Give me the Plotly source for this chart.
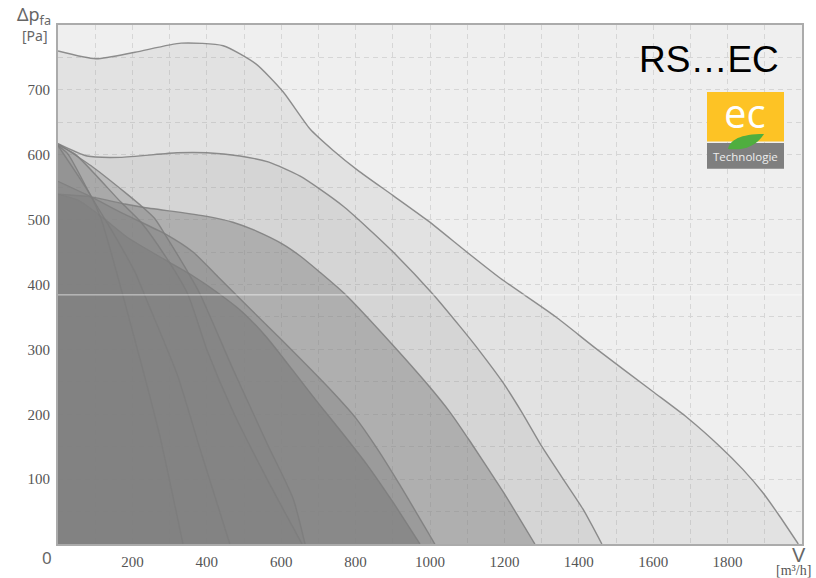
import plotly.graph_objects as go

W, H = 816, 578
L, R, T, B = 58, 802, 25, 544.5

# Fan curves, [m3/h] and [Pa]
c1_v = [0,102,207,331,444,532,605,677,739,806,901,995,1099,1188,1336,1449,1599,1691,1780,1841,1895,1941,1990]
c1_p = [760,748,758,772,768,740,697,640,607,576,537,498,450,410,351,300,235,195,150,115,79,42,0]
c2_v = [0,78,167,320,400,489,565,651,704,766,831,901,1008,1081,1134,1196,1247,1301,1358,1411,1462]
c2_p = [617,598,596,603,603,598,589,567,547,521,488,450,385,335,297,249,203,150,100,54,0]
c3_v = [0,89,180,228,401,470,535,605,651,704,772,898,992,1054,1108,1196,1242,1282]
c3_p = [539,535,524,519,505,496,482,462,444,419,385,308,247,203,158,81,38,0]
c4_v = [0,89,180,288,363,430,484,551,651,739,798,858,919,1013]
c4_p = [559,535,508,478,450,412,381,343,286,234,196,147,91,0]
c5_v = [0,54,116,188,288,358,435,497,562,651,704,766,831,901,973]
c5_p = [539,530,505,472,438,415,385,357,318,253,214,170,122,64,0]
c6_v = [0,89,180,228,261,290,344,382,470,562,632,664]
c6_p = [617,583,542,519,501,475,424,385,270,155,70,0]
c7_v = [0,46,169,223,288,349,400,470,562,656]
c7_p = [615,601,527,496,444,385,300,205,100,0]
c8_v = [0,27,89,153,207,234,320,382,462]
c8_p = [614,601,536,475,419,382,262,146,0]
c9_v = [0,89,116,153,175,228,274,336]
c9_p = [614,536,501,428,382,269,166,0]

curves = [(c1_v,c1_p,0.108),(c2_v,c2_p,0.13),(c3_v,c3_p,0.45),(c4_v,c4_p,0.42),(c5_v,c5_p,0.65),
          (c6_v,c6_p,0.3),(c7_v,c7_p,0.3),(c8_v,c8_p,0.3),(c9_v,c9_p,0.3)]

x_grid = list(range(0, 2001, 100))
y_grid = list(range(0, 801, 50))
x_labels = [str(v) if v % 200 == 0 and 0 < v < 2000 else "" for v in x_grid]
y_labels = [str(v) if v % 100 == 0 and 0 < v < 800 else "" for v in y_grid]

fig = go.Figure()
for v, p, a in curves:
    fig.add_trace(go.Scatter(x=v, y=p, mode="lines", fill="tozeroy",
                             fillcolor=f"rgba(128,128,128,{a})",
                             line=dict(color="rgba(125,125,125,0.85)", width=1.4, shape="spline", smoothing=0.6),
                             hoverinfo="skip", showlegend=False))

px = lambda v: (v - L) / (R - L)
py = lambda v: (B - v) / (B - T)
TICK = dict(family="Liberation Serif", size=15, color="#555")
GRID = dict(showgrid=True, gridcolor="#d6d6d6", gridwidth=1, griddash="5px,4px", zeroline=False,
            showline=True, linecolor="#ababab", linewidth=2, mirror=True, ticks="", tickfont=TICK,
            tickmode="array", automargin=False)

def rect(x0, y0, x1, y1, c):
    return dict(type="rect", xref="paper", yref="paper", x0=px(x0), x1=px(x1), y0=py(y0), y1=py(y1),
                fillcolor=c, line_width=0, layer="above")

def leaf():
    pts = "M{} {} C{} {} {} {} {} {} C{} {} {} {} {} {} Z".format(
        px(728), py(149), px(730), py(140), px(740), py(134), px(764), py(134),
        px(756), py(147), px(742), py(151), px(728), py(149))
    return dict(type="path", xref="paper", yref="paper", path=pts, fillcolor="#4fae3f", line_width=0, layer="above")

def text(x, y, s, size, color, family="Liberation Sans", xa="center"):
    return dict(xref="paper", yref="paper", x=px(x), y=py(y), text=s, showarrow=False, xanchor=xa, yanchor="middle",
                font=dict(family=family, size=size, color=color))

fig.update_layout(
    width=W, height=H, autosize=False,
    margin=dict(l=L, r=W-R, t=T, b=H-B, pad=0),
    paper_bgcolor="white", plot_bgcolor="#efefef",
    xaxis=dict(range=[0, 2000], tickvals=x_grid, ticktext=x_labels, ticklabelstandoff=3, **GRID),
    yaxis=dict(range=[0, 800], tickvals=y_grid, ticktext=y_labels, ticklabelstandoff=3, **GRID),
    shapes=[
        dict(type="line", xref="x", yref="y", x0=0, x1=2000, y0=384, y1=384,
             line=dict(color="rgba(255,255,255,0.65)", width=1), layer="above"),
        rect(707, 92, 784, 141.5, "#fdc325"),
        rect(707, 143, 784, 169, "#7f7f7f"),
        leaf(),
    ],
    annotations=[
        text(709, 60, "RS…EC", 37, "#000"),
        text(744.5, 113, "ec", 40, "#fff", "Open Sans"),
        text(745.5, 156.5, "Technologie", 11.5, "#eee", "Open Sans"),
        text(34, 15, "Δp<sub>fa</sub>", 18, "#666", "Noto Sans"),
        text(35, 36, "[Pa]", 14, "#666", "Noto Sans"),
        text(47, 558, "0", 17, "#666", "Noto Sans"),
        text(799, 556, "V", 20, "#666", "Liberation Sans"),
        text(793, 571, "[m³/h]", 14, "#555", "Liberation Serif"),
    ],
)

fig.write_html("out.html", config=dict(displayModeBar=False), post_script="document.body.style.margin='0';")
